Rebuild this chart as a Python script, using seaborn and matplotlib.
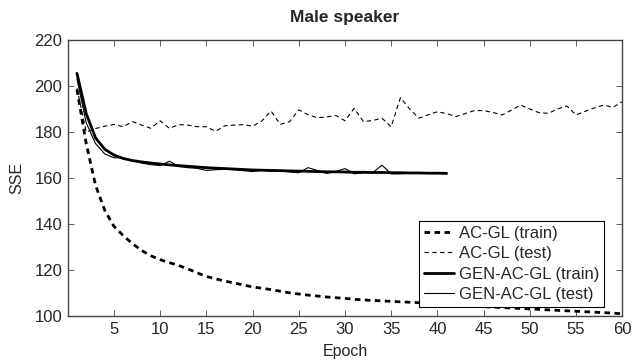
import numpy as np
import pandas as pd
import seaborn as sns
import matplotlib.pyplot as plt

# SSE per epoch
acgl_train = [198.5, 175, 157, 146, 139, 135, 131.5, 128.5, 126.2, 124.5,
              123.2, 122, 120.5, 118.8, 117.2, 116.2, 115.2, 114.4, 113.5, 112.7,
              112.1, 111.5, 110.8, 110.1, 109.6, 109.1, 108.7, 108.3, 108, 107.7,
              107.3, 107, 106.8, 106.6, 106.4, 106.2, 106, 105.8, 105.6, 105.4,
              105.2, 105, 104.7, 104.4, 104.1, 103.9, 103.7, 103.5, 103.3, 103.1,
              102.9, 102.7, 102.5, 102.3, 102.1, 101.9, 101.7, 101.5, 101.3, 101]
acgl_test = [199, 180, 181.5, 182.5, 183.3, 182.3, 184.5, 183, 181.6, 184.9,
             181.6, 183.2, 183, 182.3, 182.3, 180.3, 182.7, 183, 183.2, 182.5,
             184.8, 189.1, 183.3, 184.5, 189.6, 187.5, 186.2, 186.5, 187.2, 184.9,
             190.3, 184.5, 185, 186, 182.3, 194.9, 190, 186, 187.5, 188.8,
             188, 186.7, 188, 189.3, 189.3, 188.5, 187.4, 189.5, 191.7, 190,
             188.4, 188.1, 190, 191.3, 187.4, 189, 190.5, 191.7, 190.7, 193.2]
gen_train = [205.5, 188, 177.5, 172.5, 170, 168.5, 167.6, 167, 166.5, 166.1,
             165.7, 165.4, 165.1, 164.8, 164.5, 164.3, 164.1, 163.9, 163.7, 163.5,
             163.4, 163.3, 163.2, 163.1, 163, 162.9, 162.8, 162.7, 162.7, 162.6,
             162.5, 162.5, 162.4, 162.4, 162.3, 162.3, 162.2, 162.2, 162.1, 162.1, 162]
gen_test = [203, 184, 175, 170.5, 168.8, 168.8, 167.5, 166.5, 165.8, 165.4,
            167.3, 165, 164.5, 164.2, 163.3, 163.6, 163.8, 163.6, 163.2, 162.8,
            163.4, 162.9, 163.2, 162.6, 162.3, 164.5, 163.3, 162, 162.8, 164.1,
            161.8, 162.3, 162.3, 165.6, 161.8, 161.8, 162.1, 162.4, 162.2, 162.4, 162.4]

epochs_long = np.arange(1, len(acgl_train) + 1)
epochs_short = np.arange(1, len(gen_train) + 1)

sns.set_style("ticks")
plt.rcParams['font.family'] = ['Liberation Sans', 'DejaVu Sans']

fig = plt.figure(figsize=(6.33, 3.6), dpi=100)
ax = fig.add_axes([0.107, 0.122, 0.876, 0.767])

sns.lineplot(x=epochs_long, y=acgl_train, ax=ax, color="black", lw=2.0,
             linestyle=(0, (2, 1.6)), label="AC-GL (train)")
sns.lineplot(x=epochs_long, y=acgl_test, ax=ax, color="black", lw=0.8,
             linestyle=(0, (4, 3)), label="AC-GL (test)")
sns.lineplot(x=epochs_short, y=gen_train, ax=ax, color="black", lw=2.0,
             label="GEN-AC-GL (train)")
sns.lineplot(x=epochs_short, y=gen_test, ax=ax, color="black", lw=0.8,
             label="GEN-AC-GL (test)")

ax.set_xlim(0, 60)
ax.set_ylim(100, 220)
ax.set_xticks(range(5, 61, 5))
ax.set_yticks(range(100, 221, 20))
ax.tick_params(direction="in", top=True, right=True, labelsize=12,
               length=4, width=0.6, color="#444444", pad=4)
for s in ax.spines.values():
    s.set_color("#444444")
    s.set_linewidth(1.0)

ax.set_xlabel("Epoch", fontsize=11.5, labelpad=5)
ax.set_ylabel("SSE", fontsize=11.5, labelpad=7)
ax.set_title("Male speaker", fontsize=12.5, fontweight="bold", pad=13)

leg = ax.legend(loc="lower right", bbox_to_anchor=(0.967, 0.033), fontsize=12,
                frameon=True, fancybox=False, edgecolor="black", framealpha=1,
                handlelength=1.8, handletextpad=0.3, borderpad=0.3,
                labelspacing=0.32, borderaxespad=0)
leg.get_frame().set_linewidth(0.8)

fig.savefig("out.png", dpi=100)
